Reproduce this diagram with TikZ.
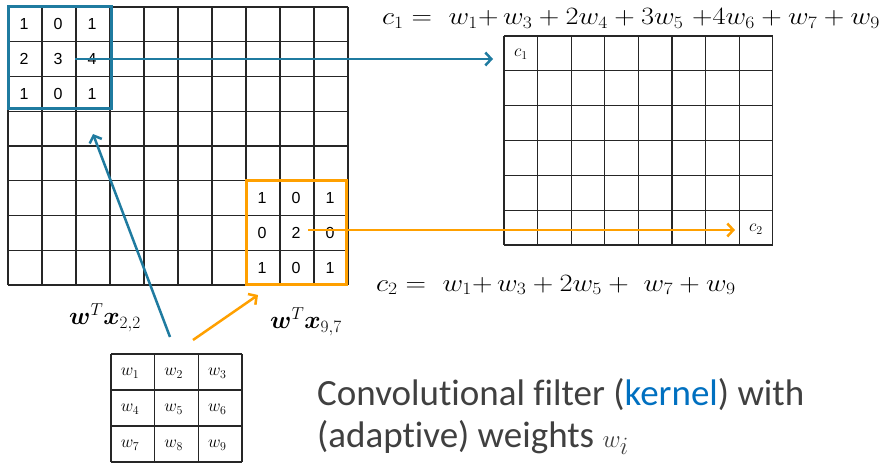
\documentclass[tikz,border=0pt]{standalone}
\usepackage{amsmath}
\usepackage{graphicx}
\usepackage{fontspec}
\newfontfamily\calibri[Ligatures=NoCommon]{Carlito}
\newfontfamily\arial{Liberation Sans}
\usetikzlibrary{arrows.meta}
\definecolor{cnnblue}{RGB}{31,123,160}
\definecolor{cnnorange}{RGB}{255,160,0}
\definecolor{txtgray}{RGB}{64,64,64}
\definecolor{kernblue}{RGB}{0,112,192}
\tikzset{
	gridline/.style={line width=1.2pt,black!85},
	digit/.style={font=\arial\fontsize{16}{19}\selectfont,inner sep=1pt},
	wlabel/.style={font=\fontsize{17}{20}\selectfont,inner sep=1pt},
	eqn/.style={font=\fontsize{25}{30}\selectfont,inner sep=0pt},
	desc/.style={font=\calibri\fontsize{37}{44}\selectfont,text=txtgray,inner sep=0pt},
	bluebox/.style={draw=cnnblue,line width=3pt},
	orangebox/.style={draw=cnnorange,line width=3pt},
	bluearrow/.style={draw=cnnblue,line width=2.5pt,-{Straight Barb[length=6pt,width=13pt]}},
	orangearrow/.style={draw=cnnorange,line width=2.5pt,-{Straight Barb[length=6pt,width=13pt]}}
}

\begin{document}
\begin{tikzpicture}[x=1pt,y=-1pt]
	\useasboundingbox (0,0) rectangle (891,468);
	% input image 10 x 8
	\foreach \i in {0,...,10} \draw[gridline] ({8+34*\i},7) -- ({8+34*\i},285);
	\foreach \j in {0,...,8} \draw[gridline] (8,{7+34.75*\j}) -- (348,{7+34.75*\j});
	\foreach \v [count=\k from 0] in {1,0,1,2,3,4,1,0,1} {
		\pgfmathtruncatemacro\c{mod(\k,3)} \pgfmathtruncatemacro\r{div(\k,3)}
		\node[digit] (a\k) at ({24+34*\c},{24.4+34.75*\r}) {\v};
	}
	\foreach \v [count=\k from 0] in {1,0,1,0,2,0,1,0,1} {
		\pgfmathtruncatemacro\c{mod(\k,3)} \pgfmathtruncatemacro\r{div(\k,3)}
		\node[digit] (b\k) at ({262+34*\c},{198.1+34.75*\r}) {\v};
	}
	\draw[bluebox] (8,7) rectangle (111,109);
	\draw[orangebox] (246,180) rectangle (346,284);
	%
	% feature map 8 x 6
	\foreach \i in {0,...,8} \draw[gridline] ({504+33.6*\i},36) -- ({504+33.6*\i},245);
	\foreach \j in {0,...,6} \draw[gridline] (504,{36+34.83*\j}) -- (772.8,{36+34.83*\j});
	\node[wlabel] (c1) at (521,54) {$c_1$};
	\node[wlabel] (c2) at (756,229) {$c_2$};
	%
	% kernel 3 x 3
	\foreach \i in {0,...,3} \draw[gridline] ({111+43.67*\i},354) -- ({111+43.67*\i},462);
	\foreach \j in {0,...,3} \draw[gridline] (111,{354+36*\j}) -- (242,{354+36*\j});
	\foreach \k in {1,...,9} {
		\pgfmathtruncatemacro\c{mod(\k-1,3)} \pgfmathtruncatemacro\r{div(\k-1,3)}
		\node[wlabel] (w\k) at ({130+43.67*\c},{373+36*\r}) {$w_{\k}$};
	}
	%
	% arrows
	\coordinate (p22) at (75,59);		\coordinate (q22) at (493,59);
	\coordinate (p97) at (308,230);		\coordinate (q97) at (735,230);
	\coordinate (kb) at (170,337);		\coordinate (kbt) at (93,134);
	\coordinate (ko) at (193,340);		\coordinate (kot) at (258,295);
	\draw[bluearrow] (p22) -- (q22);
	\draw[orangearrow] (p97) -- (q97);
	\draw[bluearrow] (kb) -- (kbt);
	\draw[orangearrow] (ko) -- (kot);
	%
	\node[font=\fontsize{27}{32}\selectfont] (wx22) at (105,318) {$\boldsymbol{w}^T\boldsymbol{x}_{2,2}$};
	\node[font=\fontsize{27}{32}\selectfont] (wx97) at (306,322) {$\boldsymbol{w}^T\boldsymbol{x}_{9,7}$};
	%
	\node[eqn,anchor=base west] (eq1) at (382,25) {\scalebox{1.14}[1]{$c_1 =\ w_1{+}\,w_3 + 2w_4 + 3w_5\ {+}4w_6 + w_7 + w_9$}};
	\node[eqn,anchor=base west] (eq2) at (376,291) {\scalebox{1.14}[1]{$c_2 =\ w_1{+}\,w_3 + 2w_5 +\ w_7 + w_9$}};
	%
	\node[desc,anchor=base west] (desc1) at (317,405) {Convolutional filter (\textcolor{kernblue}{kernel}) with};
	\node[desc,anchor=base west] (desc2) at (317,447) {(adaptive) weights $w_i$};
\end{tikzpicture}
\end{document}
